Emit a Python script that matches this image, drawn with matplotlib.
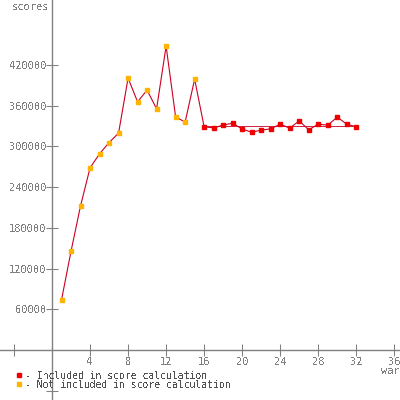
import matplotlib
matplotlib.use("Agg")
import matplotlib.pyplot as plt
from matplotlib.lines import Line2D
import numpy as np

plt.rcParams['font.family'] = 'DejaVu Sans Mono'
plt.rcParams['text.antialiased'] = False

# ward number -> score
wards_early = [1, 2, 3, 4, 5, 6, 7, 8, 9, 10, 11, 12, 13, 14, 15]
scores_early = [73800, 145600, 212400, 268500, 289200, 305800, 319700, 400800,
                365900, 383100, 355500, 448000, 343700, 335900, 399300]
wards_late = [16, 17, 18, 19, 20, 21, 22, 23, 24, 25, 26, 27, 28, 29, 30, 31, 32]
scores_late = [329000, 327500, 331500, 334400, 325600, 321100, 324100, 326000,
               332900, 327000, 337800, 324600, 332900, 331500, 343300, 332900, 329000]

xticks = [-4, 4, 8, 12, 16, 20, 24, 28, 32, 36]
xlabels = ['', '4', '8', '12', '16', '20', '24', '28', '32', '36']
yticks = [-60000, 60000, 120000, 180000, 240000, 300000, 360000, 420000]
ylabels = ['', '60000', '120000', '180000', '240000', '300000', '360000', '420000']

grey = '#808080'
line_col = '#cc0022'
red = '#ee0000'
orange = '#ffb400'

fig = plt.figure(figsize=(4, 4), dpi=100)
ax = fig.add_axes([0, 0, 1, 1])

all_w = wards_early + wards_late
all_s = scores_early + scores_late
ax.plot(all_w, all_s, color=line_col, lw=0.8, zorder=2)
mean_late = np.mean(scores_late)
ax.plot([wards_late[0], wards_late[-1]], [mean_late, mean_late], color=line_col, lw=0.6, zorder=1)
ax.plot(wards_early, scores_early, ls='none', marker='s', ms=3.2, mfc=orange, mec=orange, zorder=3)
ax.plot(wards_late, scores_late, ls='none', marker='s', ms=3.2, mfc=red, mec=red, zorder=3)

ax.set_xlim(-5.47, 36.6)
ax.set_ylim(-73800, 516000)

for s in ['top', 'right']:
    ax.spines[s].set_visible(False)
for s in ['left', 'bottom']:
    ax.spines[s].set_position(('data', 0))
    ax.spines[s].set_color(grey)
    ax.spines[s].set_linewidth(1)

ax.set_xticks(xticks)
ax.set_xticklabels(xlabels)
ax.set_yticks(yticks)
ax.set_yticklabels(ylabels)
ax.tick_params(axis='both', direction='inout', length=8, width=0.75, color=grey,
               labelcolor=grey, labelsize=7.5)
ax.tick_params(axis='x', pad=1)
ax.tick_params(axis='y', pad=0)
ax.patch.set_alpha(0)

fig.text(0.03, 0.995, 'scores', color=grey, fontsize=7.5, va='top', ha='left')
fig.text(0.952, 0.073, 'wards', color=grey, fontsize=7.5, va='center', ha='left')

handles = [Line2D([], [], ls='none', marker='s', ms=3.2, mfc=red, mec=red),
           Line2D([], [], ls='none', marker='s', ms=3.2, mfc=orange, mec=orange)]
fig.legend(handles, ['- Included in score calculation', '- Not included in score calculation'],
           loc='upper left', bbox_to_anchor=(0.03, 0.085), frameon=False,
           handlelength=0.5, handletextpad=0.3, labelspacing=-0.12, borderpad=0,
           fontsize=7, labelcolor='#505050')

fig.savefig('out.png', dpi=100)
